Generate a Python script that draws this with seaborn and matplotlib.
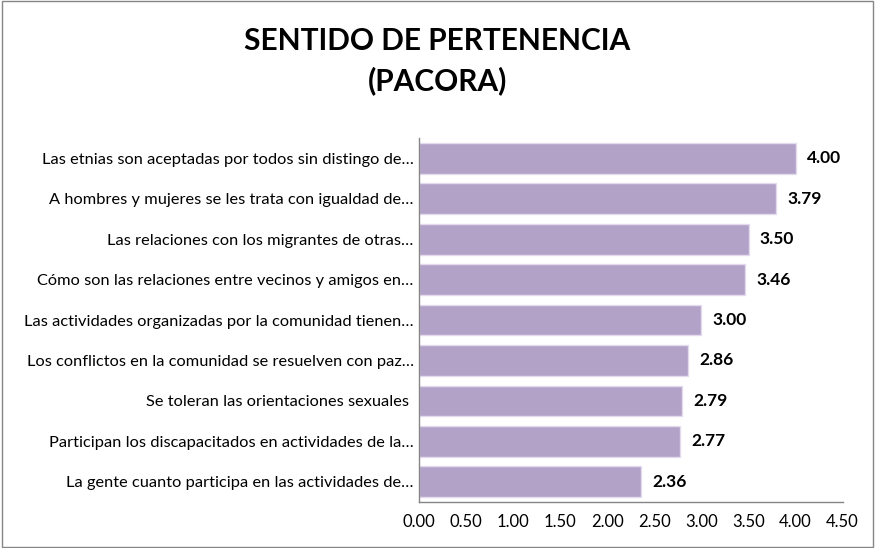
import seaborn as sns
import matplotlib.pyplot as plt
import matplotlib.patches as mpatches
import numpy as np
import pandas as pd

sns.set_style("white")
plt.rcParams['font.family'] = ['Lato', 'DejaVu Sans']
plt.rcParams['text.color'] = 'black'
plt.rcParams['xtick.labelcolor'] = 'black'
plt.rcParams['ytick.labelcolor'] = 'black'

# Datos
categorias = [
    'Las etnias son aceptadas por todos sin distingo de…',
    'A hombres y mujeres se les trata con igualdad de…',
    'Las relaciones con los migrantes de otras…',
    'Cómo son las relaciones entre vecinos y amigos en…',
    'Las actividades organizadas por la comunidad tienen…',
    'Los conflictos en la comunidad se resuelven con paz…',
    'Se toleran las orientaciones sexuales ',
    'Participan los discapacitados en actividades de la…',
    'La gente cuanto participa en las actividades de…',
]
valores = [4.00, 3.79, 3.50, 3.46, 3.00, 2.86, 2.79, 2.77, 2.36]
ticks_x = [0.0, 0.5, 1.0, 1.5, 2.0, 2.5, 3.0, 3.5, 4.0, 4.5]

df = pd.DataFrame({'categoria': categorias, 'valor': valores})

fig = plt.figure(figsize=(8.75, 5.48), dpi=100)
ax = fig.add_axes([0.479, 0.084, 0.484, 0.664])

sns.barplot(data=df, y='categoria', x='valor', orient='h', color='#b3a2c7',
            saturation=1, width=0.76, edgecolor='#e4dcee', linewidth=1, ax=ax)

for i, v in enumerate(valores):
    ax.text(v + 0.12, i, f'{v:.2f}', va='center', ha='left',
            fontsize=12.5, fontweight='bold', color='black')

ax.set_xlim(0, 4.5)
ax.set_xticks(ticks_x)
ax.set_xticklabels([f'{t:.2f}' for t in ticks_x], fontsize=12)
ax.set_ylim(len(categorias) - 0.5, -0.5)
ax.set_xlabel('')
ax.set_ylabel('')
ax.tick_params(axis='y', which='major', length=0, labelsize=11.8, pad=4)
ax.set_yticks(np.arange(-0.5, len(categorias), 1), minor=True)
ax.tick_params(axis='y', which='minor', length=5, color='#868686', direction='out')
ax.tick_params(axis='x', length=5, color='#868686', direction='out', pad=4)

for s in ['top', 'right']:
    ax.spines[s].set_visible(False)
for s in ['left', 'bottom']:
    ax.spines[s].set_color('#868686')
    ax.spines[s].set_linewidth(1)

fig.text(0.5, 0.95, 'SENTIDO DE PERTENENCIA\n(PACORA)', ha='center', va='top',
         fontsize=21.5, fontweight='bold', linespacing=1.45, color='black')

fig.patches.append(mpatches.Rectangle((0.002, 0.002), 0.996, 0.996, transform=fig.transFigure,
                                      fill=False, edgecolor='#868686', linewidth=1))

fig.savefig('out.png', dpi=100)
